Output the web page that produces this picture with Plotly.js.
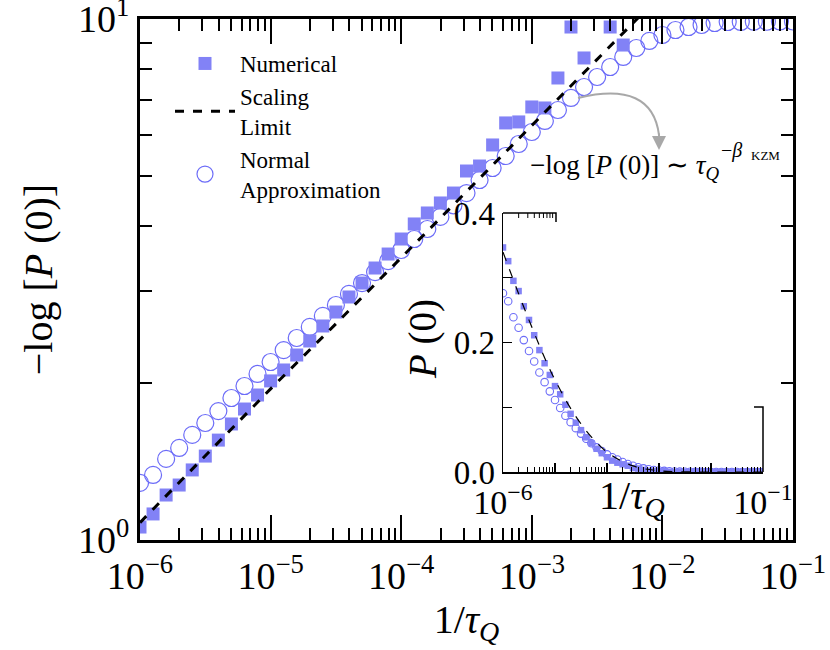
<!DOCTYPE html>
<html>
<head>
<meta charset="utf-8">
<script src="https://cdn.plot.ly/plotly-3.0.1.min.js"></script>
<style>
  html, body { margin: 0; padding: 0; background: #fff; }
  #chart { width: 830px; height: 650px; }
</style>
</head>
<body>
<div id="chart"></div>
<script>
// x grid: log10(1/tau_Q), every 0.1 decade
const logInvTau = [-6.0, -5.9, -5.8, -5.7, -5.6, -5.5, -5.4, -5.3, -5.2, -5.1,
  -5.0, -4.9, -4.8, -4.7, -4.6, -4.5, -4.4, -4.3, -4.2, -4.1,
  -4.0, -3.9, -3.8, -3.7, -3.6, -3.5, -3.4, -3.3, -3.2, -3.1,
  -3.0, -2.9, -2.8, -2.7, -2.6, -2.5, -2.4, -2.3, -2.2, -2.1,
  -2.0, -1.9, -1.8, -1.7, -1.6, -1.5, -1.4, -1.3, -1.2, -1.1, -1.0];

// -log[P(0)], numerical (null = off the top of the chart)
const numerical = [1.059, 1.122, 1.220, 1.275, 1.363, 1.449, 1.555, 1.670, 1.784, 1.898,
  2.020, 2.120, 2.265, 2.410, 2.575, 2.739, 2.927, 3.113, 3.327, 3.539,
  3.782, 4.042, 4.243, 4.435, 4.634, 5.108, 5.222, 5.731, 6.317, 6.345,
  6.779, 6.749, 7.705, 9.652, 8.418, null, 9.652, 8.913, null, null,
  null, null, null, null, null, null, null, null, null, null, null];

// -log[P(0)], normal approximation
const normalApprox = [1.287, 1.333, 1.431, 1.502, 1.591, 1.677, 1.768, 1.873, 1.975, 2.083,
  2.196, 2.315, 2.442, 2.564, 2.692, 2.825, 2.967, 3.113, 3.268, 3.431,
  3.603, 3.782, 3.953, 4.170, 4.390, 4.634, 4.909, 5.176, 5.458, 5.756,
  6.069, 6.372, 6.688, 7.054, 7.404, 7.739, 8.089, 8.455, 8.797, 9.075,
  9.318, 9.526, 9.652, 9.739, 9.825, 9.868, 9.870, 9.880, 9.880, 9.890, 9.890];

// scaling limit (straight line in log-log)
const scalingLogX = [-6.0, -5.5, -5.0, -4.5, -4.0, -3.5, -3.0, -2.5, -2.0, -1.5, -1.0];
const scalingVal = [1.08, 1.45, 1.95, 2.60, 3.48, 4.67, 6.25, 8.37, 11.2, 15.0, 20.1];

const decades = [1e-6, 1e-5, 1e-4, 1e-3, 1e-2, 1e-1];
const decadeLabels = ['10<sup>−6</sup>', '10<sup>−5</sup>', '10<sup>−4</sup>',
  '10<sup>−3</sup>', '10<sup>−2</sup>', '10<sup>−1</sup>'];

const x = logInvTau.map(e => Math.pow(10, e));
const xs = scalingLogX.map(e => Math.pow(10, e));
// inset shows P(0) itself
const pNum = numerical.map(v => v == null ? 0 : Math.exp(-v));
const pNorm = normalApprox.map(v => Math.exp(-v));
const pScal = scalingVal.map(v => Math.exp(-v));

const SQ = '#8282f6';
const CI = '#6c6cf8';
const FONT = 'Liberation Serif, Times New Roman, serif';

const data = [
  { x: x, y: normalApprox, name: 'Normal<br>Approximation', type: 'scatter', mode: 'markers',
    marker: { symbol: 'circle-open', size: 17, color: CI, line: { width: 1.2, color: CI } },
    legendrank: 3 },
  { x: x, y: numerical, name: 'Numerical', type: 'scatter', mode: 'markers',
    marker: { symbol: 'square', size: 13, color: SQ }, legendrank: 1 },
  { x: xs, y: scalingVal, name: 'Scaling<br>Limit', type: 'scatter', mode: 'lines',
    line: { color: 'black', width: 3, dash: 'dash' }, legendrank: 2 },

  // inset
  { x: x, y: pNorm, xaxis: 'x2', yaxis: 'y2', type: 'scatter', mode: 'markers', showlegend: false,
    marker: { symbol: 'circle-open', size: 7.5, color: CI, line: { width: 1.1, color: CI } } },
  { x: x, y: pNum, xaxis: 'x2', yaxis: 'y2', type: 'scatter', mode: 'markers', showlegend: false,
    marker: { symbol: 'square', size: 6.5, color: SQ } },
  { x: xs, y: pScal, xaxis: 'x2', yaxis: 'y2', type: 'scatter', mode: 'lines', showlegend: false,
    line: { color: 'black', width: 1.2, dash: 'dash', shape: 'spline' } }
];

// paper coords helpers (main plot area 140..793 x 19..540 px)
const px = v => (v - 140) / 653;
const py = v => (540 - v) / 521;

// short minor ticks along the piece of inset top frame (2..9 x 1e-6)
let topTicks = '';
for (let m = 2; m <= 9; m++) {
  const tx = px(503 + 52 * Math.log10(m));
  topTicks += ` M ${tx} ${py(213)} L ${tx} ${py(218)}`;
}

const layout = {
  width: 830, height: 650,
  margin: { l: 140, r: 37, t: 19, b: 110 },
  paper_bgcolor: 'white', plot_bgcolor: 'white',
  font: { family: FONT, color: 'black' },
  showlegend: true,
  legend: {
    x: px(170), y: py(42), xanchor: 'left', yanchor: 'top',
    bgcolor: 'rgba(0,0,0,0)', font: { size: 23, family: FONT },
    itemwidth: 60, traceorder: 'normal'
  },
  xaxis: {
    type: 'log', range: [-6, -1], domain: [0, 1],
    tickvals: decades, ticktext: decadeLabels,
    ticks: 'inside', ticklen: 25, tickwidth: 2, tickcolor: 'black',
    minor: { ticks: 'inside', ticklen: 12, tickwidth: 2, tickcolor: 'black', dtick: 'D1', showgrid: false },
    showline: true, linewidth: 3, linecolor: 'black', mirror: 'ticks',
    showgrid: false, zeroline: false, ticklabeloverflow: 'allow',
    tickfont: { size: 38, family: FONT },
    title: { text: '1/<i>τ</i><sub><i>Q</i></sub>', font: { size: 40, family: FONT }, standoff: 6 }
  },
  yaxis: {
    type: 'log', range: [0, 1], domain: [0, 1],
    tickvals: [1, 10], ticktext: ['10<sup>0</sup>', '10<sup>1</sup>'],
    ticks: 'inside', ticklen: 25, tickwidth: 2, tickcolor: 'black',
    minor: { ticks: 'inside', ticklen: 12, tickwidth: 2, tickcolor: 'black', dtick: 'D1', showgrid: false },
    showline: true, linewidth: 3, linecolor: 'black', mirror: 'ticks',
    showgrid: false, zeroline: false, ticklabeloverflow: 'allow',
    tickfont: { size: 38, family: FONT },
    title: { text: '−log [<i>P</i> (0)]', font: { size: 40, family: FONT }, standoff: 14 }
  },
  xaxis2: {
    type: 'log', range: [-6, -1], domain: [px(503), px(763)], anchor: 'y2',
    tickvals: decades, ticktext: ['10<sup>−6</sup>', '', '', '', '', '10<sup>−1</sup>'],
    ticks: 'inside', ticklen: 9, tickwidth: 1.2, tickcolor: 'black',
    minor: { ticks: 'inside', ticklen: 5, tickwidth: 1, tickcolor: 'black', dtick: 'D1', showgrid: false },
    showline: true, linewidth: 1.5, linecolor: 'black',
    showgrid: false, zeroline: false,
    tickfont: { size: 34, family: FONT }
  },
  yaxis2: {
    range: [0, 0.4], domain: [py(472), py(213)], anchor: 'x2',
    tickvals: [0, 0.2, 0.4], ticktext: ['0.0', '0.2', '0.4'],
    ticks: 'inside', ticklen: 9, tickwidth: 1.2, tickcolor: 'black',
    minor: { ticks: 'inside', ticklen: 9, tickwidth: 1, tickcolor: 'black', dtick: 0.1, showgrid: false },
    showline: true, linewidth: 1.5, linecolor: 'black',
    showgrid: false, zeroline: false,
    tickfont: { size: 33, family: FONT }
  },
  shapes: [
    // partial top and right frame of the inset
    { type: 'path', xref: 'paper', yref: 'paper', line: { color: 'black', width: 1.5 },
      path: `M ${px(503)} ${py(213)} L ${px(556)} ${py(213)} L ${px(556)} ${py(222)}` },
    { type: 'path', xref: 'paper', yref: 'paper', line: { color: 'black', width: 1 },
      path: topTicks },
    { type: 'path', xref: 'paper', yref: 'paper', line: { color: 'black', width: 1.5 },
      path: `M ${px(763)} ${py(472)} L ${px(763)} ${py(407)} L ${px(754)} ${py(407)}` },
    // curved gray arrow
    { type: 'path', xref: 'paper', yref: 'paper', line: { color: '#a8a8a8', width: 2 },
      path: `M ${px(578)} ${py(98)} Q ${px(652)} ${py(80)} ${px(659)} ${py(135)}` }
  ],
  annotations: [
    { xref: 'paper', yref: 'paper', x: px(659), y: py(150), ax: 0, ay: -18,
      showarrow: true, arrowhead: 2, arrowsize: 1.4, arrowwidth: 2, arrowcolor: '#a8a8a8', text: '' },
    { xref: 'paper', yref: 'paper', x: px(528), y: py(167), xanchor: 'left', yanchor: 'middle',
      showarrow: false, font: { size: 27, family: FONT },
      text: '−log [<i>P</i> (0)] ∼ <i>τ</i><sub><i>Q</i></sub>' },
    { xref: 'paper', yref: 'paper', x: px(719), y: py(150), xanchor: 'left', yanchor: 'middle',
      showarrow: false, font: { size: 20, family: FONT }, text: '−<i>β</i>' },
    { xref: 'paper', yref: 'paper', x: px(749), y: py(156), xanchor: 'left', yanchor: 'middle',
      showarrow: false, font: { size: 13, family: FONT }, text: 'KZM' },
    // inset axis titles
    { xref: 'paper', yref: 'paper', x: px(632), y: py(498), xanchor: 'center', yanchor: 'middle',
      showarrow: false, font: { size: 40, family: FONT }, text: '1/<i>τ</i><sub><i>Q</i></sub>' },
    { xref: 'paper', yref: 'paper', x: px(423), y: py(339), xanchor: 'center', yanchor: 'middle',
      showarrow: false, textangle: -90, font: { size: 39, family: FONT }, text: '<i>P</i> (0)' }
  ]
};

Plotly.newPlot('chart', data, layout, { staticPlot: true });
</script>
</body>
</html>
